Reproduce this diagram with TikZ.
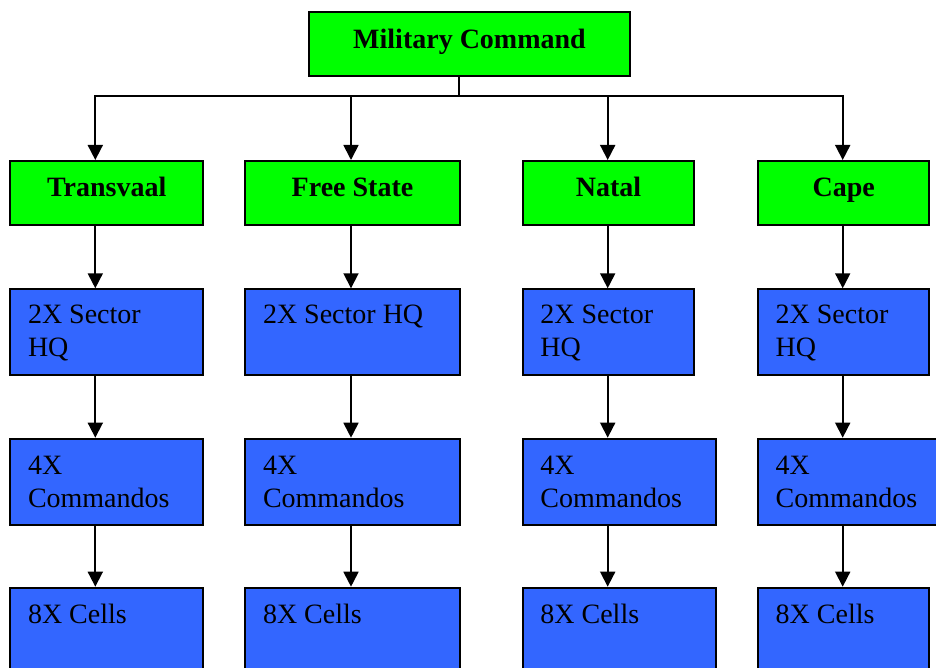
\documentclass[tikz,border=0pt]{standalone}
\usepackage{fontspec}
\setmainfont{Liberation Serif}
\usetikzlibrary{arrows.meta}
\definecolor{boxgreen}{HTML}{00FF00}
\definecolor{boxblue}{HTML}{3366FF}
\begin{document}
\begin{tikzpicture}[x=1pt,y=-1pt,
  gbox/.style={draw=black, line width=2pt, fill=boxgreen, inner sep=0pt, anchor=north west},
  bbox/.style={draw=black, line width=2pt, fill=boxblue, inner sep=0pt, anchor=north west},
  gtxt/.style={font=\fontsize{28}{33}\selectfont\bfseries, inner sep=0pt, anchor=base},
  btxt/.style={font=\fontsize{28}{33}\selectfont, inner sep=0pt, anchor=base west, align=left},
  conn/.style={line width=1.8pt, draw=black},
  arr/.style={conn, -{Triangle[width=15pt,length=15pt]}}]
\useasboundingbox (0,0) rectangle (936,668);
\clip (0,0) rectangle (936,668);
% top
\node[gbox, minimum width=321pt, minimum height=64pt] (mc) at (308,10.7) {};
\node[gtxt] (mct) at ([yshift=-37.6]mc.north) {Military Command};
% row 1
\node[gbox, minimum width=192.7pt, minimum height=64pt] (tv) at (9.3,160) {};
\node[gbox, minimum width=214.4pt, minimum height=64pt] (fs) at (244.3,160) {};
\node[gbox, minimum width=171.6pt, minimum height=64pt] (na) at (521.7,160) {};
\node[gbox, minimum width=171.3pt, minimum height=64pt] (ca) at (757,160) {};
\node[gtxt] (tvt) at ([yshift=-36.6]tv.north) {Transvaal};
\node[gtxt] (fst) at ([yshift=-36.6]fs.north) {Free State};
\node[gtxt] (nat) at ([yshift=-36.6]na.north) {Natal};
\node[gtxt] (cat) at ([yshift=-36.6]ca.north) {Cape};
% row 2
\node[bbox, minimum width=192.7pt, minimum height=85.7pt] (tvhq) at (9.3,288.3) {};
\node[bbox, minimum width=214.4pt, minimum height=85.7pt] (fshq) at (244.3,288.3) {};
\node[bbox, minimum width=171.6pt, minimum height=85.7pt] (nahq) at (521.7,288.3) {};
\node[bbox, minimum width=171.3pt, minimum height=85.7pt] (cahq) at (757,288.3) {};
% row 3
\node[bbox, minimum width=192.7pt, minimum height=86pt] (tvcm) at (9.3,437.7) {};
\node[bbox, minimum width=214.4pt, minimum height=86pt] (fscm) at (244.3,437.7) {};
\node[bbox, minimum width=193pt, minimum height=86pt] (nacm) at (521.7,437.7) {};
\node[bbox, minimum width=193pt, minimum height=86pt] (cacm) at (757,437.7) {};
% row 4
\node[bbox, minimum width=192.7pt, minimum height=86pt] (tvce) at (9.3,586.7) {};
\node[bbox, minimum width=214.4pt, minimum height=86pt] (fsce) at (244.3,586.7) {};
\node[bbox, minimum width=193pt, minimum height=86pt] (nace) at (521.7,586.7) {};
\node[bbox, minimum width=171.3pt, minimum height=86pt] (cace) at (757,586.7) {};
% texts (base anchor of a two-line node is its last line)
\foreach \n in {tv,na,ca}{
  \node[btxt] (\n hqt) at ([xshift=18.5,yshift=-68.3]\n hq.north west) {2X Sector\\HQ};
}
\node[btxt] (fshqt) at ([xshift=18.5,yshift=-35.3]fshq.north west) {2X Sector HQ};
\foreach \n in {tv,fs,na,ca}{
  \node[btxt] (\n cmt) at ([xshift=18.5,yshift=-69.3]\n cm.north west) {4X\\Commandos};
  \node[btxt] (\n cet) at ([xshift=18.5,yshift=-36.6]\n ce.north west) {8X Cells};
}
% connectors
\coordinate (bus) at (458.7,96);
\draw[conn] (mc.south -| bus) -- (bus);
\foreach \n/\x in {tv/95.3, fs/351, na/607.7, ca/842.7}{
  \coordinate (\n x) at (\x,0);
  \draw[arr] (bus) -| (\n x |- \n.north);
  \draw[arr] (\n x |- \n.south) -- (\n x |- \n hq.north);
  \draw[arr] (\n x |- \n hq.south) -- (\n x |- \n cm.north);
  \draw[arr] (\n x |- \n cm.south) -- (\n x |- \n ce.north);
}
\end{tikzpicture}
\end{document}
